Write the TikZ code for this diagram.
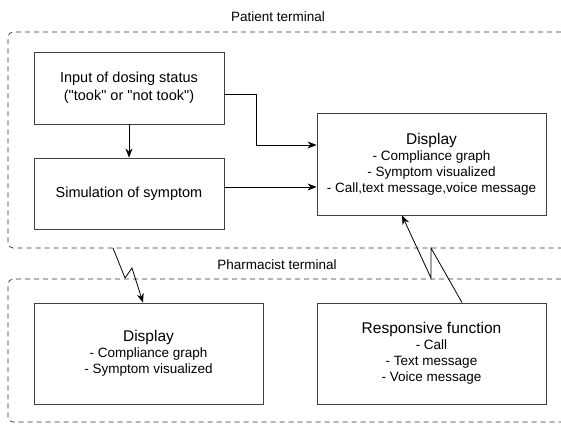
\documentclass[tikz,border=0pt]{standalone}
\usepackage{fontspec}
\setmainfont{Liberation Sans}
\usetikzlibrary{arrows.meta}

\begin{document}
\begin{tikzpicture}[x=1pt,y=-1pt,
    box/.style={draw=black!75,line width=0.9pt,align=center,inner sep=0pt},
    zone/.style={draw=black!80,line width=0.7pt,dash pattern=on 5pt off 4pt,rounded corners=5pt},
    arr/.style={-{Stealth[length=9pt,width=7pt]},line width=0.8pt},
    headfont/.style={font=\fontsize{15.5}{18}\selectfont},
    listfont/.style={font=\fontsize{13.5}{16}\selectfont}]
                \useasboundingbox (0,0) rectangle (561,424);

                % terminals
                \node[font=\fontsize{13.5}{16}\selectfont] (patient) at (278,17) {Patient terminal};
                \draw[zone] (561,32) -- (8,32) -- (8,248) -- (561,248);

                \node[font=\fontsize{13.5}{16}\selectfont] (pharma) at (277,265) {Pharmacist terminal};
                \draw[zone] (561,279) -- (8,279) -- (8,422) -- (561,422);

                % patient side
                \node[box,minimum width=190pt,minimum height=72pt,font=\fontsize{14.5}{18}\selectfont] (input) at (129,88)
                    {Input of dosing status\\(\textquotedbl took\textquotedbl{} or \textquotedbl not took\textquotedbl)};
                \node[box,minimum width=190pt,minimum height=71pt,font=\fontsize{14.5}{18}\selectfont] (simul) at (129,193.5)
                    {Simulation of symptom};
                \node[box,listfont,minimum width=229pt,minimum height=102pt] (pdisp) at (431.5,164)
                    {{\fontsize{15.5}{18}\selectfont Display}\\- Compliance graph\\- Symptom visualized\\- Call,text message,voice message};

                % pharmacist side
                \node[box,listfont,minimum width=229pt,minimum height=101pt] (rdisp) at (148.5,353.5)
                    {{\fontsize{15.5}{18}\selectfont Display}\\- Compliance graph\\- Symptom visualized};
                \node[box,listfont,minimum width=229pt,minimum height=101pt] (resp) at (431.5,353.5)
                    {{\fontsize{15.5}{18}\selectfont Responsive function}\\- Call\\- Text message\\- Voice message};

                \draw[arr] (input) -- (simul);
                \draw[arr] ([yshift=-6pt]input.east) -- ++(32,0) |- ([yshift=19pt]pdisp.west);
                \draw[arr] ([yshift=6.5pt]simul.east) -- ([yshift=6.5pt]simul.east -| pdisp.west);

                % links between terminals
                \coordinate (zapA) at (113,248);
                \draw[arr] (zapA) -- (125,278) -- (132,268) -- ([xshift=-5.5pt]rdisp.north);
                \draw[arr] ([xshift=30.5pt]resp.north) -- (431,248) -- (431,278) -- ([xshift=-29.5pt]pdisp.south);
            \end{tikzpicture}
\end{document}
